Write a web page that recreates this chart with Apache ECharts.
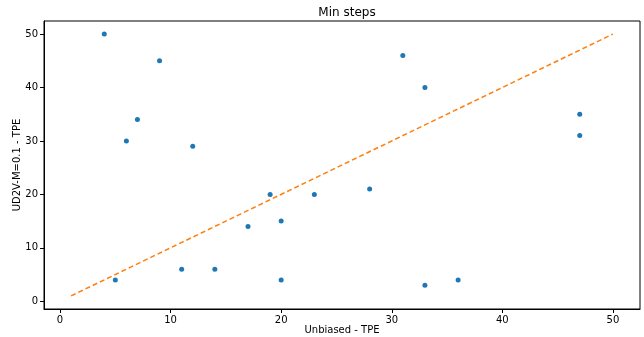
<!DOCTYPE html>
<html>
<head>
<meta charset="utf-8">
<script src="https://cdn.jsdelivr.net/npm/echarts@6/dist/echarts.min.js"></script>
<style>
  html, body { margin: 0; padding: 0; background: #fff; }
  #chart { width: 644px; height: 337px; }
</style>
</head>
<body>
<div id="chart"></div>
<script>
  // unbiased TPE vs UD2V-M=0.1 TPE, min steps
  const xVals = [4, 9, 7, 6, 12, 5, 11, 14, 17, 19, 20, 20, 23, 28, 31, 33, 33, 36, 47, 47];
  const yVals = [50, 45, 34, 30, 29, 4, 6, 6, 14, 20, 15, 4, 20, 21, 46, 40, 3, 4, 35, 31];
  const diagX = [1, 50];
  const diagY = [1, 50];
  const xTicks = [0, 10, 20, 30, 40, 50];
  const yTicks = [0, 10, 20, 30, 40, 50];

  const pts = xVals.map((x, i) => [x, yVals[i]]);
  const diag = diagX.map((x, i) => [x, diagY[i]]);

  const font = 'DejaVu Sans';
  const axisCommon = (ticks, name) => ({
    type: 'value',
    min: -1.45,
    max: 52.45,
    name: name,
    nameLocation: 'middle',
    nameMoveOverlap: false,
    nameTextStyle: { color: '#000', fontSize: 10, fontFamily: font },
    axisLine: { show: true, onZero: false, lineStyle: { color: '#000', width: 1 } },
    axisTick: { show: true, customValues: ticks, length: 4, inside: false, lineStyle: { color: '#000' } },
    axisLabel: { customValues: ticks, color: '#000', fontSize: 10, fontFamily: font, margin: 6 },
    splitLine: { show: false }
  });

  const chart = echarts.init(document.getElementById('chart'));
  const option = {
    animation: false,
    title: {
      text: 'Min steps',
      left: 342,
      top: 2,
      textAlign: 'center',
      textStyle: { fontSize: 12, fontWeight: 'normal', color: '#000', fontFamily: font }
    },
    grid: {
      left: 44, right: 4, top: 21, bottom: 28,
      outerBoundsMode: 'none',
      containLabel: false,
      show: true, borderColor: '#000', borderWidth: 1, backgroundColor: '#fff'
    },
    xAxis: Object.assign(axisCommon(xTicks, 'Unbiased - TPE'), { nameGap: 16 }),
    yAxis: Object.assign(axisCommon(yTicks, 'UD2V-M=0.1 - TPE'), { nameGap: 22 }),
    series: [
      {
        type: 'scatter',
        data: pts,
        symbolSize: 5,
        itemStyle: { color: '#1f77b4', opacity: 1 }
      },
      {
        type: 'line',
        data: diag,
        showSymbol: false,
        lineStyle: { color: '#ff7f0e', type: [5, 3], width: 1.5 }
      }
    ]
  };
  chart.setOption(option);
</script>
</body>
</html>
